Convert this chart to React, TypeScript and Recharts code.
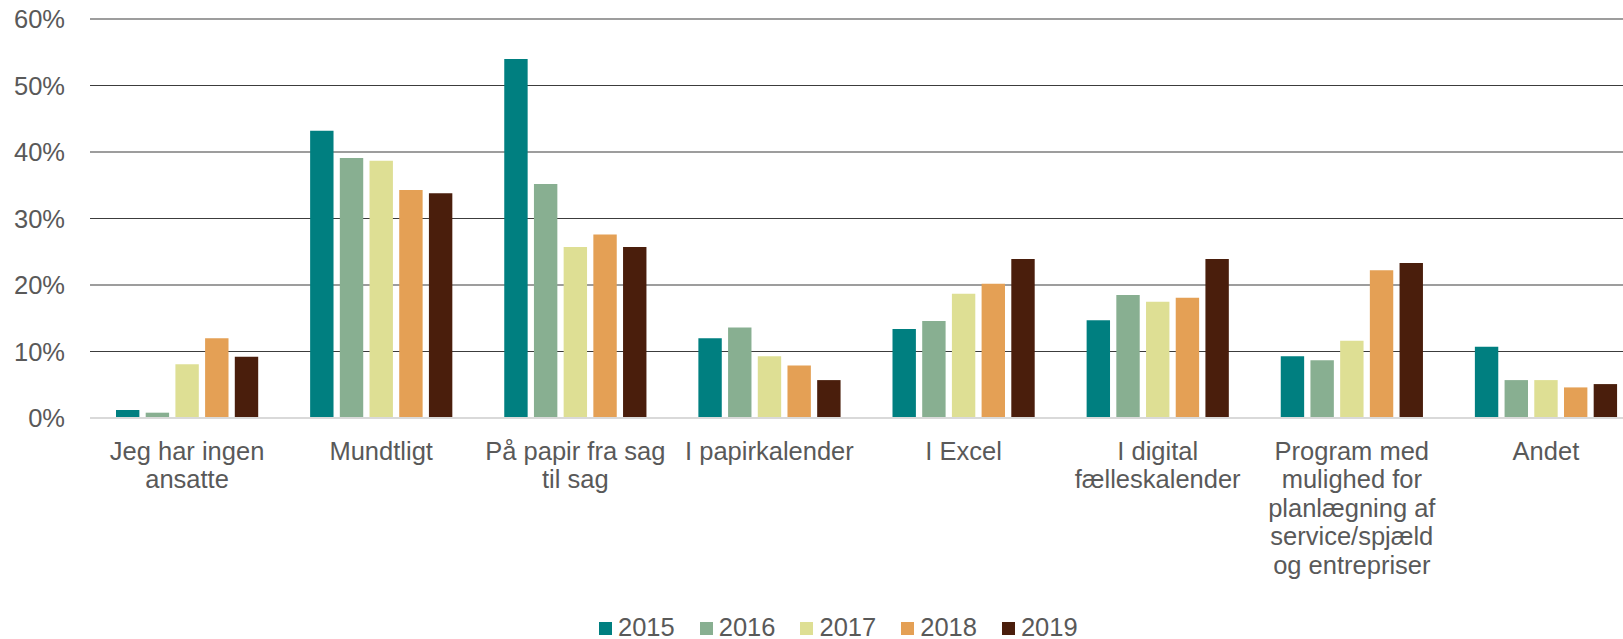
import React from "react";
import { BarChart, Bar, XAxis, YAxis, CartesianGrid } from "recharts";

const categories = [
  "Jeg har ingen\nansatte",
  "Mundtligt",
  "På papir fra sag\ntil sag",
  "I papirkalender",
  "I Excel",
  "I digital\nfælleskalender",
  "Program med\nmulighed for\nplanlægning af\nservice/spjæld\nog entrepriser",
  "Andet",
];

const years = ["2015", "2016", "2017", "2018", "2019"];

const y2015 = [1.2, 43.2, 54.0, 12.0, 13.4, 14.7, 9.3, 10.7];
const y2016 = [0.8, 39.1, 35.2, 13.6, 14.6, 18.5, 8.7, 5.7];
const y2017 = [8.1, 38.7, 25.7, 9.3, 18.7, 17.5, 11.6, 5.7];
const y2018 = [12.0, 34.3, 27.6, 7.9, 20.2, 18.1, 22.2, 4.6];
const y2019 = [9.2, 33.8, 25.7, 5.7, 23.9, 23.9, 23.3, 5.1];

const yTicks = [0, 10, 20, 30, 40, 50, 60];

const colors = ["#007f80", "#88af91", "#dedf94", "#e4a055", "#4a1e0c"];

const seriesValues = [y2015, y2016, y2017, y2018, y2019];

const data = categories.map((name, i) => {
  const row: Record<string, string | number> = { name };
  years.forEach((yr, k) => {
    row[yr] = seriesValues[k][i];
  });
  return row;
});

const FONT = '"Liberation Sans", Arial, sans-serif';
const TEXT = "#595959";
const FS = 25.5;

const CategoryTick = (props: any) => {
  const { x, y, payload } = props;
  const lines = String(payload.value).split("\n");
  return (
    <text
      x={x}
      y={y + 40}
      textAnchor="middle"
      fill={TEXT}
      fontSize={FS}
      fontFamily={FONT}
    >
      {lines.map((ln, i) => (
        <tspan key={i} x={x} dy={i === 0 ? 0 : 28.4}>
          {ln}
        </tspan>
      ))}
    </text>
  );
};

export default function App() {
  return (
    <div
      style={{
        position: "fixed",
        left: 0,
        top: 0,
        width: 1623,
        height: 639,
        overflow: "hidden",
        background: "#fff",
        fontFamily: FONT,
      }}
    >
      <BarChart
        width={1643}
        height={639}
        data={data}
        margin={{ top: 19, right: 0, bottom: 0, left: 0 }}
        barSize={23.4}
        barGap={6.3}
      >
        <CartesianGrid vertical={false} stroke="#3c3c3c" strokeWidth={1.2} />
        <XAxis
          dataKey="name"
          interval={0}
          height={221}
          tickLine={false}
          tickSize={0}
          axisLine={{ stroke: "#d9d9d9", strokeWidth: 2 }}
          tick={<CategoryTick />}
        />
        <YAxis
          width={90}
          domain={[0, 60]}
          ticks={yTicks}
          interval={0}
          axisLine={false}
          tickLine={false}
          tickSize={0}
          tickMargin={25}
          tickFormatter={(v: number) => `${v}%`}
          tick={{ fill: TEXT, fontSize: FS, fontFamily: FONT }}
        />
        {years.map((yr, k) => (
          <Bar key={yr} dataKey={yr} fill={colors[k]} isAnimationActive={false} />
        ))}
      </BarChart>
      <div
        style={{
          position: "absolute",
          left: 599,
          top: 613,
          height: 28,
          display: "flex",
          alignItems: "center",
          fontSize: FS,
          color: TEXT,
        }}
      >
        {years.map((yr, k) => (
          <div key={yr} style={{ display: "flex", alignItems: "center", marginRight: 25 }}>
            <span
              style={{
                display: "inline-block",
                width: 13,
                height: 13,
                background: colors[k],
                marginRight: 6,
                marginTop: 2,
              }}
            />
            <span>{yr}</span>
          </div>
        ))}
      </div>
    </div>
  );
}
